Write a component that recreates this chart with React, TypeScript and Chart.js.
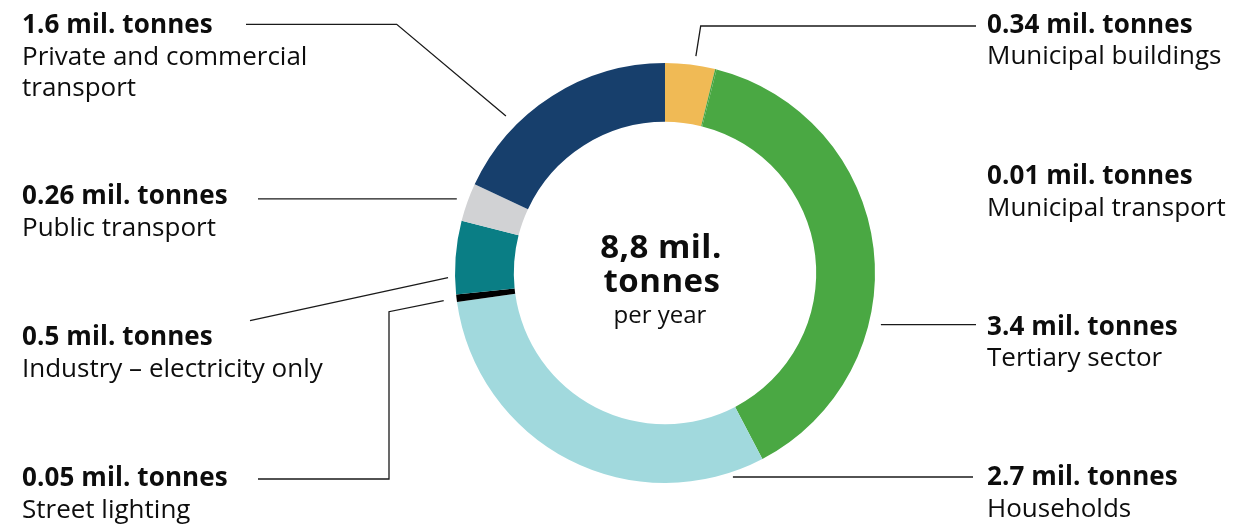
import React, { useEffect, useRef } from "react";
import { Chart, registerables } from "chart.js";

Chart.register(...registerables);

// ---- data ----
const categories = [
  "Municipal buildings",
  "Municipal transport",
  "Tertiary sector",
  "Households",
  "Street lighting",
  "Industry – electricity only",
  "Public transport",
  "Private and commercial transport",
];
const values = [0.34, 0.01, 3.4, 2.7, 0.05, 0.5, 0.26, 1.6];
const valueLabels = [
  "0.34 mil. tonnes",
  "0.01 mil. tonnes",
  "3.4 mil. tonnes",
  "2.7 mil. tonnes",
  "0.05 mil. tonnes",
  "0.5 mil. tonnes",
  "0.26 mil. tonnes",
  "1.6 mil. tonnes",
];
const colors = [
  "#F0BA55",
  "#48A541",
  "#4AA843",
  "#A1D9DD",
  "#000000",
  "#0A7E85",
  "#D1D2D4",
  "#173F6C",
];
const centerLines = ["8,8 mil.", "tonnes", "per year"];

// ---- label layout (annotation positions) ----
type Pt = [number, number | null];
interface LabelLayout {
  side: "left" | "right";
  x: number;
  baseline: number;
  leader: Pt[] | null; // points from label side; null y = same y as anchor
  t: number; // fraction along the segment for the anchor
  r: number; // radial distance of anchor from centre (px)
}
const layout: LabelLayout[] = [
  { side: "right", x: 987, baseline: 32.5, leader: [[976, 26], [700.7, 26]], t: 0.587, r: 219 },
  { side: "right", x: 987, baseline: 184, leader: null, t: 0.5, r: 220 },
  { side: "right", x: 987, baseline: 334.5, leader: [[976, null]], t: 0.646, r: 222 },
  { side: "right", x: 987, baseline: 485, leader: [[973, null]], t: 0.084, r: 215 },
  { side: "left", x: 22, baseline: 486, leader: [[258, 479], [389, 479], [389, 311.7]], t: 0.4, r: 223 },
  { side: "left", x: 22, baseline: 345, leader: [[250, 320.7]], t: 0.23, r: 217 },
  { side: "left", x: 22, baseline: 204, leader: [[258, null]], t: 0.49, r: 221 },
  { side: "left", x: 22, baseline: 33.3, leader: [[246, 24.3], [396.7, 24.3]], t: 0.302, r: 223.5 },
];

const FONT = '"Open Sans", "Noto Sans", sans-serif';
const TEXT = "#0d0d0d";

function wrap(ctx: CanvasRenderingContext2D, text: string, maxW: number): string[] {
  const words = text.split(" ");
  const lines: string[] = [];
  let cur = "";
  for (const w of words) {
    const test = cur ? cur + " " + w : w;
    if (ctx.measureText(test).width > maxW && cur) {
      lines.push(cur);
      cur = w;
    } else cur = test;
  }
  if (cur) lines.push(cur);
  return lines;
}

const labelPlugin = {
  id: "outerLabels",
  afterDraw(chart: any) {
    const ctx: CanvasRenderingContext2D = chart.ctx;
    const meta = chart.getDatasetMeta(0);
    ctx.save();
    // leader lines
    ctx.strokeStyle = "#1a1a1a";
    ctx.lineWidth = 1.3;
    meta.data.forEach((arc: any, i: number) => {
      const L = layout[i];
      if (!L || !L.leader) return;
      const a = arc.startAngle + L.t * (arc.endAngle - arc.startAngle);
      const ax = arc.x + L.r * Math.cos(a);
      const ay = arc.y + L.r * Math.sin(a);
      ctx.beginPath();
      L.leader.forEach((p, k) => {
        const y = p[1] === null ? ay : p[1];
        if (k === 0) ctx.moveTo(p[0], y);
        else ctx.lineTo(p[0], y);
      });
      ctx.lineTo(ax, ay);
      ctx.stroke();
    });
    // labels
    ctx.textAlign = "left";
    ctx.textBaseline = "alphabetic";
    ctx.fillStyle = TEXT;
    categories.forEach((name, i) => {
      const L = layout[i];
      ctx.font = `bold 26px ${FONT}`;
      (ctx as any).letterSpacing = "0.1px";
      ctx.fillText(valueLabels[i], L.x, L.baseline);
      (ctx as any).letterSpacing = "0px";
      ctx.font = `26px ${FONT}`;
      const lines = wrap(ctx, name, L.side === "left" ? 330 : 260);
      lines.forEach((ln, k) => ctx.fillText(ln, L.x, L.baseline + 31.5 * (k + 1)));
    });
    // centre text
    const cx = meta.data[0].x;
    const cy = meta.data[0].y;
    ctx.textAlign = "center";
    ctx.font = `bold 33px ${FONT}`;
    (ctx as any).letterSpacing = "0.5px";
    ctx.fillText(centerLines[0], cx - 4, cy - 15);
    ctx.fillText(centerLines[1], cx - 3, cy + 19);
    (ctx as any).letterSpacing = "0px";
    ctx.font = `24px ${FONT}`;
    ctx.fillText(centerLines[2], cx - 5, cy + 50);
    ctx.restore();
  },
};

export default function App() {
  const ref = useRef<HTMLCanvasElement | null>(null);
  useEffect(() => {
    if (!ref.current) return;
    const chart = new Chart(ref.current, {
      type: "doughnut",
      data: {
        labels: categories,
        datasets: [
          {
            data: values,
            backgroundColor: colors,
            borderWidth: 0,
            hoverOffset: 0,
          },
        ],
      },
      options: {
        animation: false,
        responsive: true,
        maintainAspectRatio: false,
        cutout: "72%",
        rotation: 0,
        layout: { padding: { left: 455, right: 358, top: 63, bottom: 45 } },
        plugins: {
          legend: { display: false },
          tooltip: { enabled: false },
        },
        events: [],
      },
      plugins: [labelPlugin],
    });
    return () => chart.destroy();
  }, []);
  return (
    <div style={{ position: "absolute", left: 0, top: 0, width: 1233, height: 528, background: "#fff" }}>
      <canvas ref={ref} />
    </div>
  );
}
